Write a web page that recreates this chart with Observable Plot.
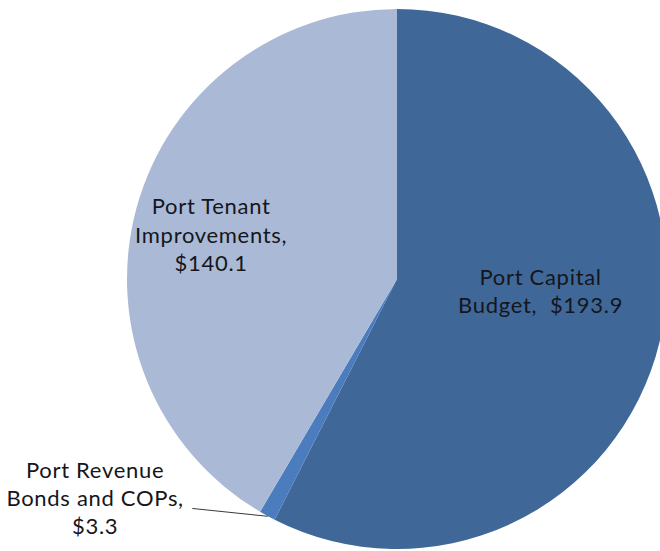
<!DOCTYPE html>
<html>
<head>
<meta charset="utf-8">
<script src="https://cdn.jsdelivr.net/npm/d3@7"></script>
<script src="https://cdn.jsdelivr.net/npm/@observablehq/plot@0.6"></script>
<style>
  html, body { margin: 0; padding: 0; background: #fff; overflow: hidden; }
  #chart svg { display: block; }
  #chart svg text { letter-spacing: 0.7px; }
</style>
</head>
<body>
<div id="chart"></div>
<script>
// ---- data ----
const categories = ["Port Capital Budget", "Port Revenue Bonds and COPs", "Port Tenant Improvements"];
const values = [193.9, 3.3, 140.1];
const labelTexts = ["Port Capital\nBudget,  $193.9", "Port Revenue\nBonds and COPs,\n$3.3", "Port Tenant\nImprovements,\n$140.1"];
const sliceColors = ["#3F6899", "#4A7CBE", "#AABAD6"];

// ---- layout (label anchors in pie-radius units, relative to centre) ----
const labelPos = [[0.53, 0.04], [-1.12, 0.805], [-0.69, -0.17]];
const leaderStart = [-0.76, 0.848];

const W = 660, H = 551;
const cx = 397, cy = 279, R = 270;

const color = Plot.scale({color: {type: "ordinal", domain: categories, range: sliceColors}});

const pie = d3.pie().sort(null).value(d => d.value).startAngle(0).endAngle(2 * Math.PI);
const slices = pie(categories.map((c, i) => ({category: c, value: values[i]})));

const labels = categories.map((c, i) => ({category: c, text: labelTexts[i], x: labelPos[i][0], y: labelPos[i][1]}));

const rev = slices[1];
const midA = (rev.startAngle + rev.endAngle) / 2;
const leader = [{x1: leaderStart[0], y1: leaderStart[1], x2: Math.sin(midA), y2: -Math.cos(midA)}];

const pieMark = (index, scales) => {
  const x = scales.x, y = scales.y;
  const r = x(1) - x(0);
  const arc = d3.arc().innerRadius(0).outerRadius(r);
  const g = d3.create("svg:g").attr("transform", `translate(${x(0)},${y(0)})`);
  g.selectAll("path").data(slices).join("path")
    .attr("d", arc)
    .attr("fill", d => color.apply(d.data.category));
  return g.node();
};

const chart = Plot.plot({
  width: W,
  height: H,
  margin: 0,
  style: {background: "#fff", overflow: "hidden"},
  x: {domain: [-1, 1], range: [cx - R, cx + R], axis: null},
  y: {domain: [-1, 1], range: [cy - R, cy + R], axis: null},
  marks: [
    pieMark,
    Plot.link(leader, {x1: "x1", y1: "y1", x2: "x2", y2: "y2", stroke: "#3a3a3a", strokeWidth: 1}),
    Plot.text(labels, {
      x: "x", y: "y", text: "text",
      fontSize: 22, lineHeight: 1.28,
      fontFamily: "Lato, 'Open Sans', sans-serif",
      fill: "#15161c", textAnchor: "middle"
    })
  ]
});
document.getElementById("chart").append(chart);
</script>
</body>
</html>
